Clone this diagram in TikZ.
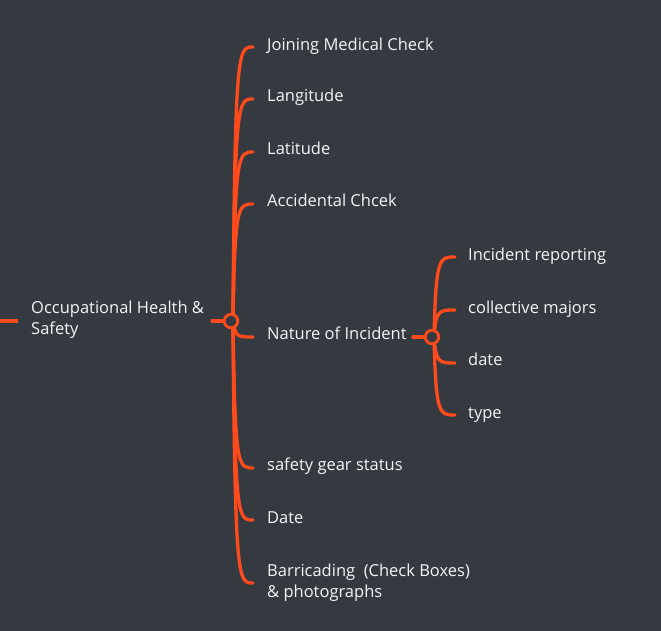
\documentclass[tikz,border=0pt]{standalone}
\usepackage{fontspec}
\setmainfont{Open Sans}
\definecolor{bg}{RGB}{52,58,64}
\definecolor{ln}{RGB}{255,74,28}
\definecolor{tx}{RGB}{245,245,245}
\begin{document}
\begin{tikzpicture}[x=1pt,y=-1pt,
  lbl/.style={anchor=base west,inner sep=0pt,text=tx,font=\fontsize{16.5}{21}\selectfont,align=left},
  br/.style={draw=ln,line width=3.3pt,line cap=round},
  hub/.style={circle,draw=ln,fill=bg,line width=2.8pt,minimum size=13.5pt,inner sep=0pt}]
\fill[bg] (0,0) rectangle (661,631);
\useasboundingbox (0,0) rectangle (661,631);
% root
\coordinate (rs) at (-2,321);
\coordinate (re) at (18,321);
\draw[br,line cap=butt] (rs) -- (re);
\node[lbl] (root) at (31,334) {Occupational Health \&\\Safety};
% main hub
\coordinate (h1) at (231,321);
\coordinate (h1s) at (233,321);
\coordinate (h1l) at (212,321);
\draw[br] (h1l) -- (h1);
\foreach \n/\y in {a/47,b/99,c/152,d/204,e/337,f/468,g/520,h/583}{
  \coordinate (e\n) at (253,\y);
  \draw[br] (h1s) .. controls (235,\y) and (238,\y) .. (e\n);
}
\node[hub] (hub1) at (h1) {};
\node[lbl] (ta) at (267,50.5) {Joining Medical Check};
\node[lbl] (tb) at (267,102) {Langitude};
\node[lbl] (tc) at (267,155) {Latitude};
\node[lbl] (td) at (267,207) {Accidental Chcek};
\node[lbl] (te) at (267,339) {Nature of Incident};
\node[lbl] (tf) at (267,470) {safety gear status};
\node[lbl] (tg) at (267,523) {Date};
\node[lbl] (th) at (267,597) {Barricading\ \ (Check Boxes)\\\& photographs};
% sub hub
\coordinate (h2) at (432,337);
\coordinate (h2s) at (434,337);
\coordinate (h2l) at (413,337);
\draw[br] (h2l) -- (h2);
\foreach \n/\y in {p/257,q/310,r/363,s/415}{
  \coordinate (e\n) at (455,\y);
  \draw[br] (h2s) .. controls (436,\y) and (439,\y) .. (e\n);
}
\node[hub] (hub2) at (h2) {};
\node[lbl] (tp) at (468,260) {Incident reporting};
\node[lbl] (tq) at (468,313) {collective majors};
\node[lbl] (tr) at (468,365) {date};
\node[lbl] (ts) at (468,418) {type};
\end{tikzpicture}
\end{document}
